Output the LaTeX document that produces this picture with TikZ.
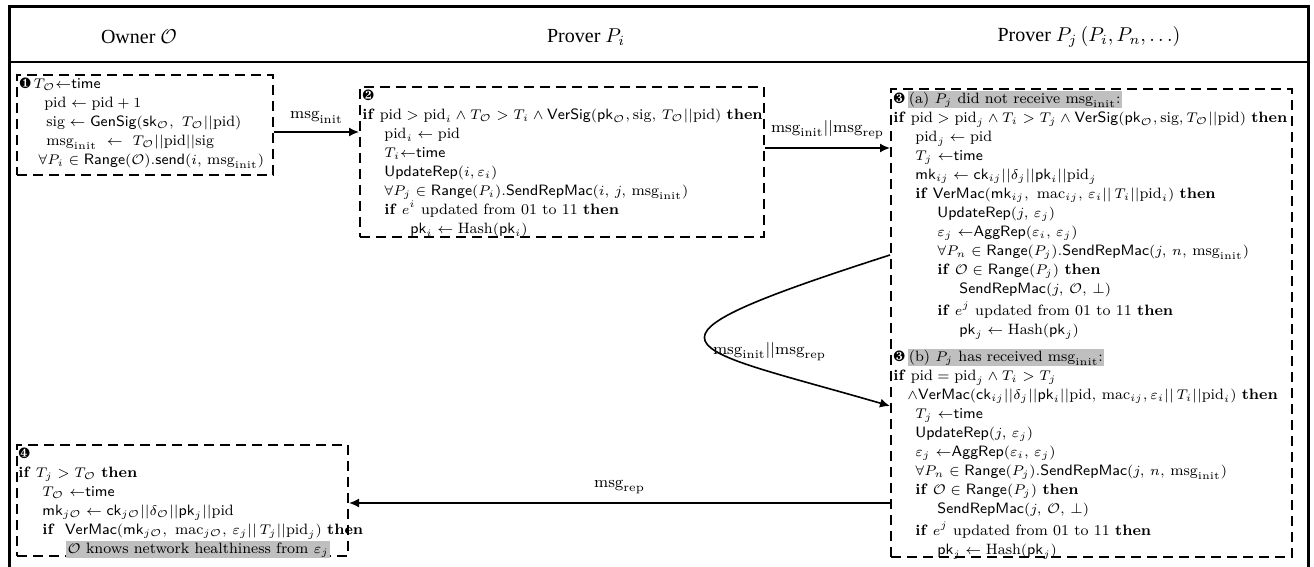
\documentclass[tikz,border=0pt]{standalone}
\usepackage{amsmath,amssymb}
\usepackage{fontspec}
\usepackage{pifont}
\usetikzlibrary{arrows.meta,calc}
\newfontfamily\headfont{Liberation Serif}

% notation used in the protocol steps
\newcommand{\Ow}{\mathcal{O}}
\newcommand{\minit}{\mathrm{msg}_{\mathrm{init}}}
\newcommand{\mrep}{\mathrm{msg}_{\mathrm{rep}}}
\newcommand{\pid}{\mathrm{pid}}
\newcommand{\kwif}{\textbf{if}}
\newcommand{\kwthen}{\textbf{then}}
\newcommand{\ind}[1]{\hspace*{#1pt}}
\newcommand{\hl}[1]{{\setlength{\fboxsep}{0.6pt}\smash{\colorbox{gray!50}{\vphantom{(}#1}}}}

\tikzset{
  frame/.style={line width=1.5pt},
  sepline/.style={line width=1pt},
  stepbox/.style={draw, dash pattern=on 5pt off 3pt, line width=1pt, inner sep=0pt},
  algo/.style={align=left, inner sep=0pt, anchor=north west, font=\fontsize{7.5}{9.5}\selectfont},
  arr/.style={-{Latex[length=5pt,width=4.5pt]}, line width=0.8pt},
  lab/.style={font=\fontsize{8}{9.6}\selectfont, inner sep=1pt},
  head/.style={font=\headfont\fontsize{10}{12}\selectfont}
}

\begin{document}
\begin{tikzpicture}[x=0.5pt, y=-0.5pt]
\useasboundingbox (0,0) rectangle (1314,567);

% outer frame and header row
\draw[frame] (9,567) -- (9,7) -- (1308,7) -- (1308,567);
\draw[sepline] (9,62) -- (1308,62);
\node[head] (h1) at (139,37) {Owner $\mathcal{O}$};
\node[head] (h2) at (586,37) {Prover $P_i$};
\node[head] (h3) at (1089,37) {Prover $P_j\,(P_i, P_n,\ldots)$};

% step boxes
\node[stepbox, minimum width=128pt, minimum height=50pt] (b1) at (145,125) {};
\node[stepbox, minimum width=202pt, minimum height=75pt] (b2) at (562,162) {};
\node[stepbox, minimum width=200.5pt, minimum height=234pt] (b3) at (1091.5,323) {};
\node[stepbox, minimum width=165.5pt, minimum height=55.5pt] (b4) at (182.5,500.5) {};

% step 1: owner
\node[algo] (t1) at ($(b1.north west)+(3,3)$) {%
\ding{182}\,$T_{\Ow}{\leftarrow}\mathsf{time}$\\
\ind{12.5}$\pid \leftarrow \pid + 1$\\
\ind{13.5}$\mathrm{sig} \leftarrow \mathsf{GenSig}(\mathsf{sk}_{\Ow},\ T_{\Ow}||\pid)$\\
\ind{13.5}$\minit\ \leftarrow\ T_{\Ow}||\pid||\mathrm{sig}$\\
\ind{9.5}$\forall P_i \in \mathsf{Range}(\Ow).\mathsf{send}(i,\, \minit)$};

% step 2: prover P_i
\node[algo] (t2) at ($(b2.north west)+(3,3)$) {%
\ding{183}\\
\kwif\ $\pid > \pid_i \wedge T_{\Ow} > T_i \wedge \mathsf{VerSig}(\mathsf{pk}_{\Ow}, \mathrm{sig},\, T_{\Ow}||\pid)$ \kwthen\\
\ind{11}$\pid_i \leftarrow \pid$\\
\ind{11}$T_i{\leftarrow}\mathsf{time}$\\
\ind{11}$\mathsf{UpdateRep}(i, \varepsilon_i)$\\
\ind{11}$\forall P_j \in \mathsf{Range}(P_i).\mathsf{SendRepMac}(i,\, j,\, \minit)$\\
\ind{11}\kwif\ $e^i$ updated from 01 to 11 \kwthen\\
\ind{24}$\mathsf{pk}_i \leftarrow \mathrm{Hash}(\mathsf{pk}_i)$};

% step 3: prover P_j
\node[algo] (t3) at ($(b3.north west)+(3,4)$) {%
\ding{184}\,\hl{(a) $P_j$ did not receive $\minit$:}\\
\kwif\ $\pid > \pid_j \wedge T_i > T_j \wedge \mathsf{VerSig}(\mathsf{pk}_{\Ow}, \mathrm{sig}, T_{\Ow}||\pid)$ \kwthen\\
\ind{11}$\pid_j \leftarrow \pid$\\
\ind{11}$T_j\ {\leftarrow}\mathsf{time}$\\
\ind{11}$\mathsf{mk}_{ij} \leftarrow \mathsf{ck}_{ij}||\delta_j||\mathsf{pk}_i||\pid_j$\\
\ind{11}\kwif\ $\mathsf{VerMac}(\mathsf{mk}_{ij},\ \mathrm{mac}_{ij},\, \varepsilon_i||\,T_i||\pid_i)$ \kwthen\\
\ind{22}$\mathsf{UpdateRep}(j,\, \varepsilon_j)$\\
\ind{22}$\varepsilon_j\ {\leftarrow}\mathsf{AggRep}(\varepsilon_i,\, \varepsilon_j)$\\
\ind{22}$\forall P_n \in \mathsf{Range}(P_j).\mathsf{SendRepMac}(j,\, n,\, \minit)$\\
\ind{22}\kwif\ $\Ow \in \mathsf{Range}(P_j)$ \kwthen\\
\ind{33}$\mathsf{SendRepMac}(j,\, \Ow,\, \bot)$\\[1.5pt]
\ind{22}\kwif\ $e^j$ updated from 01 to 11 \kwthen\\
\ind{33}$\mathsf{pk}_j \leftarrow \mathrm{Hash}(\mathsf{pk}_j)$\\[4pt]
\ding{184}\,\hl{(b) $P_j$ has received $\minit$:}\\
\kwif\ $\pid = \pid_j \wedge T_i > T_j$\\
\ind{7}$\wedge\mathsf{VerMac}(\mathsf{ck}_{ij}||\delta_j||\mathsf{pk}_i||\pid,\, \mathrm{mac}_{ij}, \varepsilon_i||\,T_i||\pid_i)$ \kwthen\\
\ind{11}$T_j\ {\leftarrow}\mathsf{time}$\\
\ind{11}$\mathsf{UpdateRep}(j,\, \varepsilon_j)$\\
\ind{11}$\varepsilon_j\ {\leftarrow}\mathsf{AggRep}(\varepsilon_i,\, \varepsilon_j)$\\
\ind{11}$\forall P_n \in \mathsf{Range}(P_j).\mathsf{SendRepMac}(j,\, n,\, \minit)$\\
\ind{11}\kwif\ $\Ow \in \mathsf{Range}(P_j)$ \kwthen\\
\ind{22}$\mathsf{SendRepMac}(j,\, \Ow,\, \bot)$\\[1.5pt]
\ind{11}\kwif\ $e^j$ updated from 01 to 11 \kwthen\\
\ind{22}$\mathsf{pk}_j \leftarrow \mathrm{Hash}(\mathsf{pk}_j)$};

% step 4: owner checks the report
\node[algo] (t4) at ($(b4.north west)+(2,3)$) {%
\ding{185}\\
\kwif\ $T_j > T_{\Ow}$ \kwthen\\
\ind{12}$T_{\Ow}\ {\leftarrow}\mathsf{time}$\\
\ind{12}$\mathsf{mk}_{j\Ow} \leftarrow \mathsf{ck}_{j\Ow}||\delta_{\Ow}||\mathsf{pk}_j||\pid$\\
\ind{12}\kwif\ \ $\mathsf{VerMac}(\mathsf{mk}_{j\Ow},\ \mathrm{mac}_{j\Ow},\, \varepsilon_j||\,T_j||\pid_j)$ \kwthen\\
\ind{24}\hl{$\Ow$ knows network healthiness from $\varepsilon_j$}};

% message connectors
\coordinate (m1) at (0,132);
\coordinate (m2) at (0,148);
\coordinate (m3) at (0,255);
\coordinate (m4) at (0,406);
\coordinate (m5) at (0,503);

\draw[arr] (b1.east |- m1) -- (b2.west |- m1)
  node[lab, midway, above=3pt] (l1) {$\minit$};
\draw[arr] (b2.east |- m2) -- (b3.west |- m2)
  node[lab, midway, above=3pt] (l2) {$\minit||\mrep$};
\draw[arr] (b3.west |- m3) .. controls (610,345) and (680,345) .. (b3.west |- m4)
  node[lab, pos=0.5, anchor=west, xshift=2pt, yshift=-5pt] (l3) {$\minit||\mrep$};
\draw[arr] (b3.west |- m5) -- (b4.east |- m5)
  node[lab, midway, above=3pt] (l4) {$\mrep$};
\end{tikzpicture}
\end{document}
